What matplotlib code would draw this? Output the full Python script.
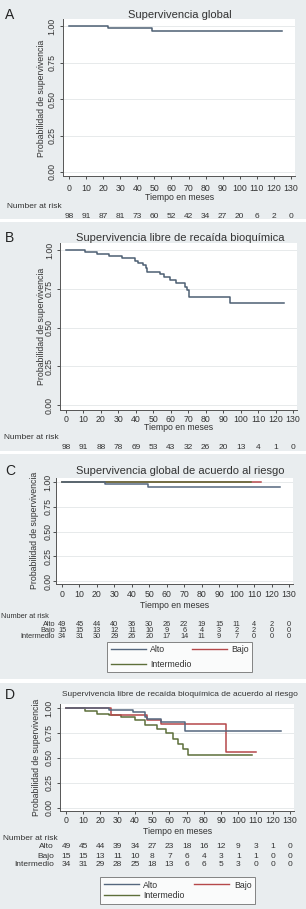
import matplotlib.pyplot as plt
from matplotlib.patches import Rectangle
from matplotlib.lines import Line2D
from matplotlib.transforms import blended_transform_factory

plt.rcParams['font.family'] = ['Liberation Sans', 'DejaVu Sans']

W, H = 306, 909

months = list(range(0, 140, 10))
yticks = [0.0, 0.25, 0.5, 0.75, 1.0]

# A - supervivencia global
a_time = [0, 23, 48.6, 125]
a_surv = [1.0, 0.985, 0.966, 0.966]
a_risk = [98, 91, 87, 81, 73, 60, 52, 42, 34, 27, 20, 6, 2, 0]

# B - supervivencia libre de recaida bioquimica
b_time = [0, 11, 17.6, 24.8, 31.9, 39.5, 41.4, 43.9, 45.8, 46.6, 53.8, 56.1,
          59.6, 63, 68.2, 69.5, 70.6, 93.9, 125]
b_surv = [1.0, 0.989, 0.976, 0.963, 0.946, 0.929, 0.916, 0.903, 0.884, 0.86,
          0.843, 0.828, 0.806, 0.79, 0.763, 0.742, 0.697, 0.66, 0.66]
b_risk = [98, 91, 88, 78, 69, 53, 43, 32, 26, 20, 13, 4, 1, 0]

# C - global por riesgo
c_alto_time = [0, 24.6, 49, 125]
c_alto_surv = [1.0, 0.98, 0.946, 0.946]
c_bajo_time = [0, 114]
c_bajo_surv = [1.0, 1.0]
c_inter_time = [0, 108]
c_inter_surv = [1.0, 1.0]
c_risk_alto = [49, 45, 44, 40, 36, 30, 26, 22, 19, 15, 11, 4, 2, 0]
c_risk_bajo = [15, 15, 13, 12, 11, 10, 9, 6, 4, 3, 2, 2, 0, 0]
c_risk_inter = [34, 31, 30, 29, 26, 20, 17, 14, 11, 9, 7, 0, 0, 0]

# D - libre de recaida por riesgo
d_alto_time = [0, 25, 39, 46, 47, 55, 69, 125]
d_alto_surv = [1.0, 0.975, 0.955, 0.91, 0.89, 0.855, 0.765, 0.765]
d_bajo_time = [0, 26, 47, 55, 93, 110]
d_bajo_surv = [1.0, 0.933, 0.875, 0.84, 0.56, 0.56]
d_inter_time = [0, 11, 18, 25, 32, 40, 46, 53, 58, 62, 65, 68, 71, 108]
d_inter_surv = [1.0, 0.971, 0.941, 0.925, 0.905, 0.88, 0.83, 0.79, 0.745,
                0.69, 0.64, 0.59, 0.525, 0.525]
d_risk_alto = [49, 45, 44, 39, 34, 27, 23, 18, 16, 12, 9, 3, 1, 0]
d_risk_bajo = [15, 15, 13, 11, 10, 8, 7, 6, 4, 3, 1, 1, 0, 0]
d_risk_inter = [34, 31, 29, 28, 25, 18, 13, 6, 6, 5, 3, 0, 0, 0]

groups = ['Alto', 'Bajo', 'Intermedio']
col_one = '#4d5f73'
col_alto = '#55677e'
col_bajo = '#b5484a'
col_inter = '#5d6f3a'
txt = '#333333'
bg = '#e9edef'

fig = plt.figure(figsize=(W / 100, H / 100), dpi=100, facecolor='white')


def fx(x):
    return x / W


def fy(y):
    return 1 - y / H


# panel backgrounds
for top, bot in [(0, 219), (222, 451), (454, 679), (683, 909)]:
    fig.patches.append(Rectangle((0, fy(bot)), 1, (bot - top) / H,
                                 transform=fig.transFigure, facecolor=bg,
                                 edgecolor='none', zorder=-10))


def km_axes(x0, x130, y1, y0, letter, title, title_y, title_size, ylab_x, ytick_x,
            xpad, xlab_y):
    k = (x130 - x0) / 130
    m = y0 - y1
    left = x0 - 3.5 * k
    width = 136 * k
    top = y1 - 0.045 * m
    bottom = y0 + 0.03 * m
    ax = fig.add_axes([fx(left), fy(bottom), width / W, (bottom - top) / H])
    ax.set_xlim(-3.5, 132.5)
    ax.set_ylim(-0.03, 1.045)
    ax.set_facecolor('white')
    for s in ['top', 'right']:
        ax.spines[s].set_visible(False)
    for s in ['left', 'bottom']:
        ax.spines[s].set_color('#555555')
        ax.spines[s].set_linewidth(0.7)
    ax.set_xticks(months)
    ax.set_yticks(yticks)
    ax.set_yticklabels(['%.2f' % v for v in yticks], rotation=90, va='center')
    ax.tick_params(axis='x', labelsize=6.3, colors=txt, length=2.5, width=0.6, pad=xpad)
    ax.tick_params(axis='y', labelsize=6.3, colors=txt, length=2.5, width=0.6,
                   pad=(left - ytick_x) - 6)
    ax.grid(axis='y', color='#e3e6e8', linewidth=0.6)
    ax.set_axisbelow(True)
    ax.set_xlabel('Tiempo en meses', fontsize=6.3, color=txt)
    ax.xaxis.set_label_coords(0.5, -(xlab_y - 4.5 - bottom) / (bottom - top))
    ax.set_ylabel('Probabilidad de supervivencia', fontsize=6.3, color=txt)
    ax.yaxis.set_label_coords((ylab_x + 4 - left) / width, 0.5)
    fig.text(fx(180), fy(title_y), title, ha='center', va='center',
             fontsize=title_size, color=txt)
    fig.text(fx(5), fy(title_y), letter, ha='left', va='center', fontsize=10, color='#222222')
    return ax


def risk_rows(ax, header_y, header_x, rows, row_ys, label_x, size):
    tr = blended_transform_factory(ax.transData, fig.transFigure)
    fig.text(fx(header_x), fy(header_y), 'Number at risk', ha='left', va='center',
             fontsize=size, color=txt)
    for (name, vals), yy in zip(rows, row_ys):
        if name:
            fig.text(fx(label_x), fy(yy), name, ha='right', va='center',
                     fontsize=size, color=txt)
        for t, v in zip(months, vals):
            ax.text(t, fy(yy), str(v), transform=tr, ha='center', va='center',
                    fontsize=size, color=txt)


# A
ax = km_axes(69, 291, 26, 172, 'A', 'Supervivencia global', 15, 8, 42, 55, 3, 198)
ax.step(a_time, a_surv, where='post', color=col_one, lw=1.1)
risk_rows(ax, 206, 7, [('', a_risk)], [216], 0, 6)

# B
ax = km_axes(66, 293, 250, 405, 'B', 'Supervivencia libre de recaída bioquímica',
             238, 8, 42, 52, 1, 427)
ax.step(b_time, b_surv, where='post', color=col_one, lw=1.1)
risk_rows(ax, 437, 4, [('', b_risk)], [447], 0, 6)

# C
ax = km_axes(62, 289, 482, 581, 'C', 'Supervivencia global de acuerdo al riesgo',
             471, 8, 35, 50, 1.7, 606)
ax.step(c_bajo_time, c_bajo_surv, where='post', color=col_bajo, lw=1.1)
ax.step(c_inter_time, c_inter_surv, where='post', color=col_inter, lw=1.1)
ax.step(c_alto_time, c_alto_surv, where='post', color=col_alto, lw=1.1)
risk_rows(ax, 616, 1, [(groups[0], c_risk_alto), (groups[1], c_risk_bajo),
                       (groups[2], c_risk_inter)], [624, 630.5, 637], 55, 5.3)

# D
ax = km_axes(66, 290, 708, 807.7, 'D',
             'Supervivencia libre de recaída bioquímica de acuerdo al riesgo',
             695, 6, 37, 52, 1, 832)
ax.step(d_inter_time, d_inter_surv, where='post', color=col_inter, lw=1.1)
ax.step(d_bajo_time, d_bajo_surv, where='post', color=col_bajo, lw=1.1)
ax.step(d_alto_time, d_alto_surv, where='post', color=col_alto, lw=1.1)
risk_rows(ax, 839, 3, [(groups[0], d_risk_alto), (groups[1], d_risk_bajo),
                       (groups[2], d_risk_inter)], [847, 856, 865], 54, 6)


def legend_box(x0, y0, x1, y1, spacing):
    handles = [Line2D([], [], color=col_alto, lw=1.0),
               Line2D([], [], color=col_inter, lw=1.0),
               Line2D([], [], color=col_bajo, lw=1.0)]
    labels = [groups[0], groups[2], groups[1]]
    leg = fig.legend(handles, labels, loc='upper left', ncol=2,
                     bbox_to_anchor=(fx(x0), fy(y1), fx(x1) - fx(x0), fy(y0) - fy(y1)),
                     bbox_transform=fig.transFigure, mode='expand', fontsize=6.3,
                     frameon=True, fancybox=False, edgecolor='#666666',
                     handlelength=4, handletextpad=0.5, labelspacing=spacing,
                     borderpad=0.4, columnspacing=3, borderaxespad=0)
    leg.get_frame().set_linewidth(0.7)
    for t in leg.get_texts():
        t.set_color(txt)


legend_box(107, 642, 252, 672, 0.6)
legend_box(100, 877, 255, 900, 0.2)

fig.savefig('out.png', dpi=100, facecolor='white')
